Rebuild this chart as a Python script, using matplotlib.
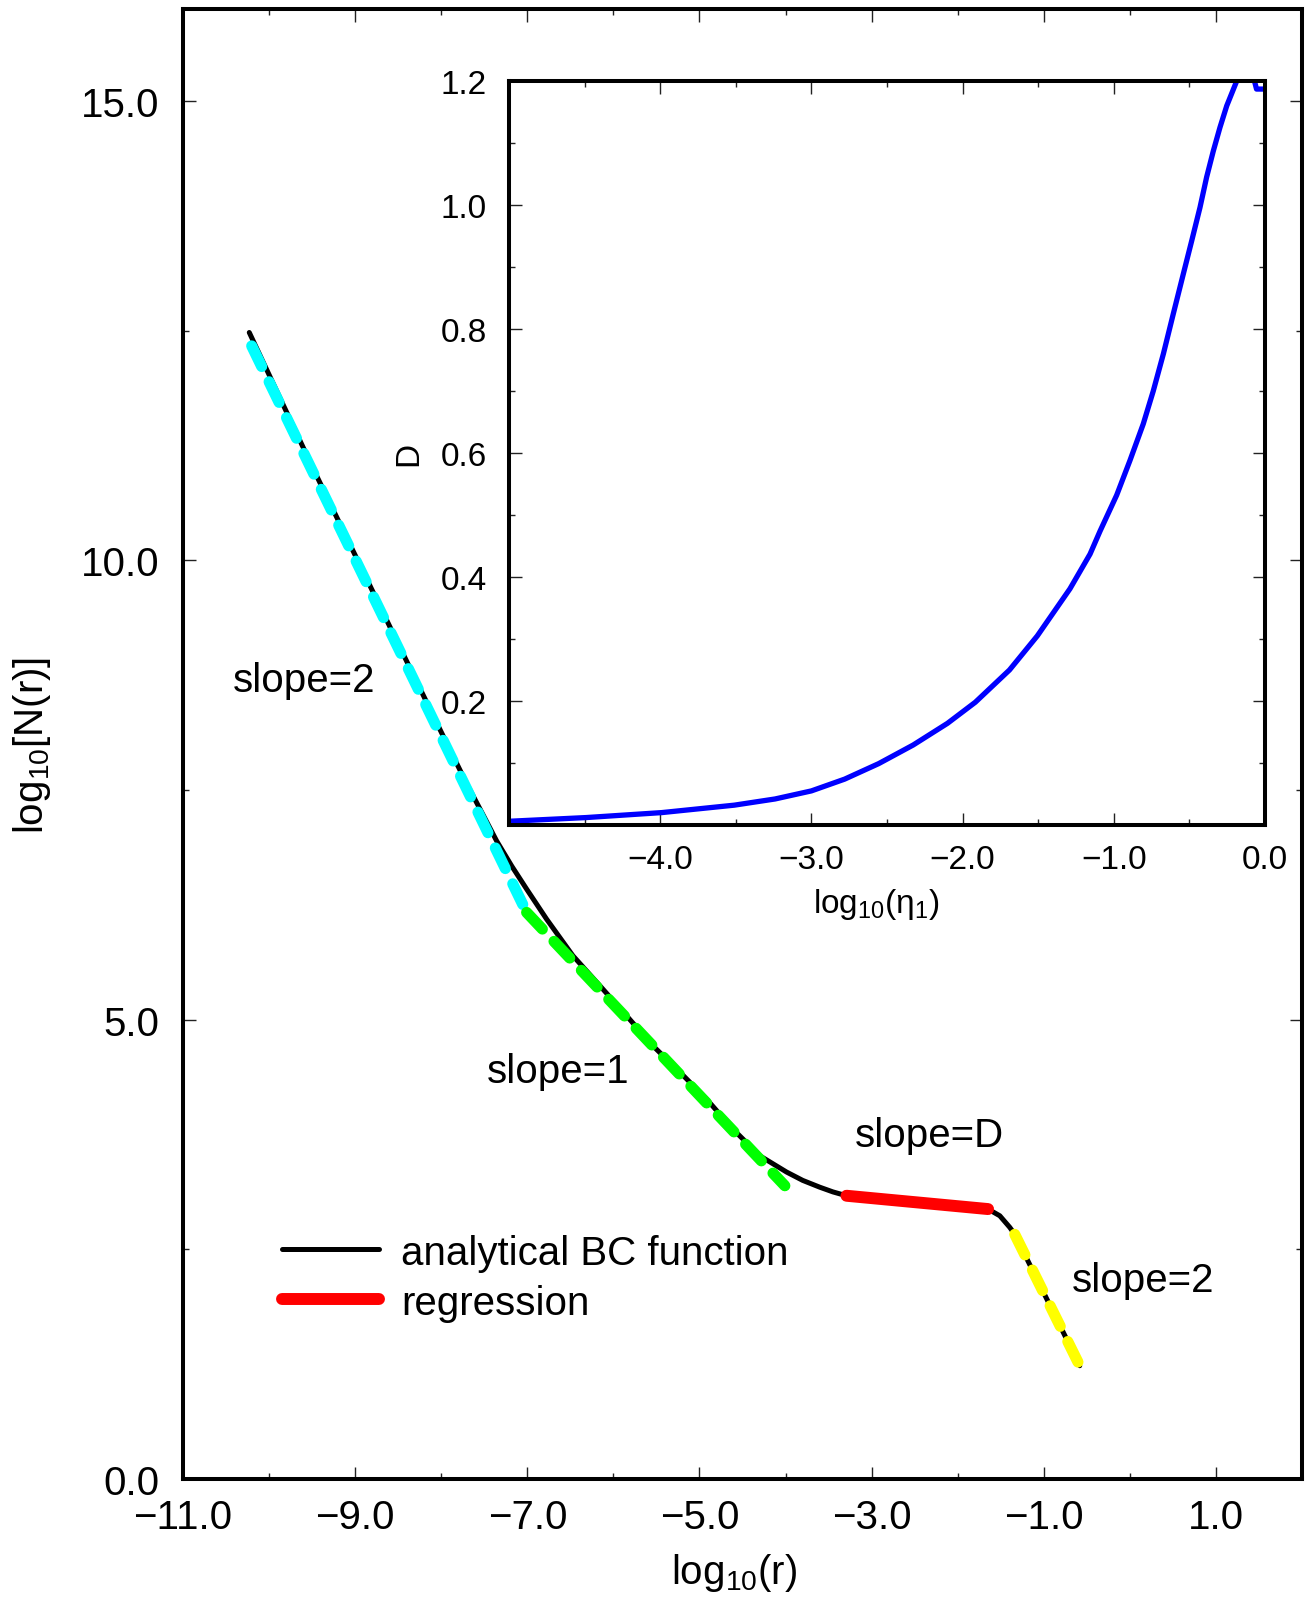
import matplotlib
matplotlib.use('Agg')
import matplotlib.pyplot as plt
from matplotlib.ticker import MultipleLocator, FuncFormatter
from matplotlib.lines import Line2D

plt.rcParams['font.family'] = ['Liberation Sans', 'DejaVu Sans']
plt.rcParams['mathtext.fontset'] = 'custom'
plt.rcParams['mathtext.rm'] = 'Liberation Sans'
plt.rcParams['mathtext.it'] = 'Liberation Sans:italic'
plt.rcParams['mathtext.default'] = 'regular'
plt.rcParams['lines.scale_dashes'] = False

# analytical BC function (log10 r, log10 N)
bc_x = [-10.23, -9.5, -8.5, -8.0, -7.7, -7.52, -7.357, -7.18, -7.008, -6.776,
        -6.47, -6.157, -5.847, -5.541, -5.228, -4.918, -4.612, -4.299, -3.988,
        -3.8, -3.602, -3.45, -3.292, -2.5, -1.647, -1.511, -1.395, -1.337,
        -0.96, -0.582]
bc_y = [12.479, 11.02, 9.09, 8.13, 7.56, 7.24, 6.946, 6.67, 6.421, 6.094,
        5.695, 5.369, 5.042, 4.715, 4.429, 4.135, 3.809, 3.518, 3.341,
        3.25, 3.176, 3.125, 3.083, 3.01, 2.938, 2.865, 2.739, 2.663,
        1.95, 1.233]

# fitted segments
fit_cyan_x = [-10.202, -7.008]
fit_cyan_y = [12.333, 6.167]
fit_green_x = [-7.008, -4.008]
fit_green_y = [6.167, 3.192]
fit_red_x = [-3.292, -1.647]
fit_red_y = [3.083, 2.938]
fit_yellow_x = [-1.337, -0.582]
fit_yellow_y = [2.663, 1.233]

# inset: D vs log10(eta1)
eta = [-5.0, -4.49, -3.99, -3.51, -3.24, -3.0, -2.78, -2.555, -2.327, -2.10,
       -1.916, -1.69, -1.506, -1.29, -1.157, -1.091, -0.981, -0.893, -0.805,
       -0.739, -0.672, -0.607, -0.54, -0.485, -0.43, -0.386, -0.342, -0.298,
       -0.253, -0.187, -0.12, -0.075, -0.056, 0.0]
D = [0.006, 0.012, 0.020, 0.032, 0.042, 0.055, 0.074, 0.099, 0.129, 0.164,
     0.198, 0.250, 0.305, 0.381, 0.437, 0.474, 0.532, 0.588, 0.647,
     0.700, 0.760, 0.824, 0.889, 0.942, 0.996, 1.045, 1.087, 1.125,
     1.160, 1.200, 1.225, 1.205, 1.187, 1.187]


def fmt(v, pos):
    if abs(v) < 1e-9:
        v = 0.0
    return f'{v:.1f}'.replace('-', '\u2212')


W, H = 1306, 1606
FS = 29
FS_IN = 24
fig = plt.figure(figsize=(W / 100, H / 100), dpi=100)
ax = fig.add_axes([183 / W, 1 - 1480 / H, (1302 - 183) / W, (1480 - 10) / H])

ax.plot(bc_x, bc_y, color='black', lw=3.6, solid_capstyle='round',
        solid_joinstyle='round', zorder=2)
dash = (0, (16.5, 12.2))
ax.plot(fit_cyan_x, fit_cyan_y, color='#00ffff', lw=8, ls=dash,
        dash_capstyle='round', zorder=3)
ax.plot(fit_green_x, fit_green_y, color='#00ff00', lw=8, ls=dash,
        dash_capstyle='round', zorder=3)
ax.plot(fit_red_x, fit_red_y, color='#ff0000', lw=8.6,
        solid_capstyle='round', zorder=3)
ax.plot(fit_yellow_x, fit_yellow_y, color='#ffff00', lw=8, ls=dash,
        dash_capstyle='round', zorder=3)

ax.set_xlim(-11, 2)
ax.set_ylim(0, 16)
ax.set_xticks([-11, -9, -7, -5, -3, -1, 1])
ax.set_yticks([0, 5, 10, 15])
ax.xaxis.set_minor_locator(MultipleLocator(1))
ax.yaxis.set_minor_locator(MultipleLocator(2.5))
ax.xaxis.set_major_formatter(FuncFormatter(fmt))
ax.yaxis.set_major_formatter(FuncFormatter(fmt))
ax.tick_params(which='both', direction='in', top=True, right=True,
               width=1, color='#222222', labelsize=FS)
ax.tick_params(which='major', length=9)
ax.tick_params(which='minor', length=4.5)
ax.tick_params(axis='y', pad=17)
ax.tick_params(axis='x', pad=14)
for s in ax.spines.values():
    s.set_linewidth(2.9)

ax.set_xlabel('log$_{10}$(r)', fontsize=FS)
ax.set_ylabel('log$_{10}$[N(r)]', fontsize=FS)
ax.xaxis.set_label_coords(0.4924, -0.049)
ax.yaxis.set_label_coords(-0.1162, 0.5)

ax.text(-10.419, 8.576, 'slope=2', fontsize=FS, va='baseline')
ax.text(-7.473, 4.32, 'slope=1', fontsize=FS, va='baseline')
ax.text(-3.195, 3.62, 'slope=D', fontsize=FS, va='baseline')
ax.text(-0.678, 2.05, 'slope=2', fontsize=FS, va='baseline')

handles = [Line2D([], [], color='black', lw=3.6, solid_capstyle='round'),
           Line2D([], [], color='#ff0000', lw=8.6, solid_capstyle='round')]
ax.legend(handles, ['analytical BC function', 'regression'], loc='upper left',
          bbox_to_anchor=(0.0885, 0.167), borderpad=0, borderaxespad=0,
          handlelength=2.4, handletextpad=0.55, labelspacing=0.3,
          frameon=False, fontsize=FS)

# inset
ins = fig.add_axes([509 / W, 1 - 826 / H, (1265 - 509) / W, (826 - 82) / H])
ins.set_facecolor('white')
ins.plot(eta, D, color='#0000ff', lw=3.8, solid_capstyle='round',
         solid_joinstyle='round')
ins.set_xlim(-5, 0)
ins.set_ylim(0, 1.2)
ins.set_xticks([-4, -3, -2, -1, 0])
ins.set_xticks([-4.5, -3.5, -2.5, -1.5, -0.5], minor=True)
ins.set_yticks([0.2, 0.4, 0.6, 0.8, 1.0, 1.2])
ins.set_yticks([0.1, 0.3, 0.5, 0.7, 0.9, 1.1], minor=True)
ins.xaxis.set_major_formatter(FuncFormatter(fmt))
ins.yaxis.set_major_formatter(FuncFormatter(fmt))
ins.tick_params(which='both', direction='in', top=True, right=True,
                width=1, color='#222222', labelsize=FS_IN)
ins.tick_params(which='major', length=9)
ins.tick_params(which='minor', length=4.5)
ins.tick_params(axis='y', pad=16)
ins.tick_params(axis='x', pad=13.7)
for s in ins.spines.values():
    s.set_linewidth(2.9)
ins.set_xlabel('log$_{10}$(η$_1$)', fontsize=FS_IN)
ins.set_ylabel('D', fontsize=FS_IN)
ins.xaxis.set_label_coords(0.4854, -0.082)
ins.yaxis.set_label_coords(-0.1116, 0.5)

fig.savefig('out.png', dpi=100)
